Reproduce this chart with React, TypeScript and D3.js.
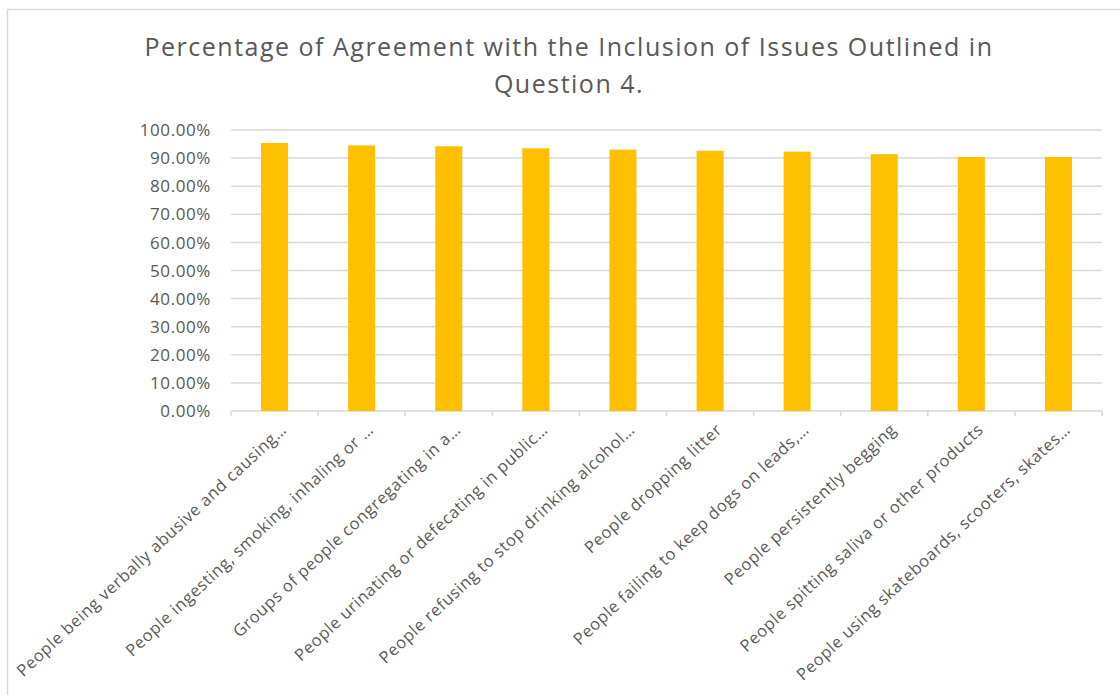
import React, { useEffect, useRef } from 'react'
import * as d3 from 'd3'

const titleLines = ['Percentage of Agreement with the Inclusion of Issues Outlined in', 'Question 4.']

const categories = [
  'People being verbally abusive and causing…',
  'People ingesting, smoking, inhaling or …',
  'Groups of people congregating in a…',
  'People urinating or defecating in public…',
  'People refusing to stop drinking alcohol…',
  'People dropping litter',
  'People failing to keep dogs on leads,…',
  'People persistently begging',
  'People spitting saliva or other products',
  'People using skateboards, scooters, skates…',
]

const agreement = [0.954, 0.945, 0.942, 0.935, 0.93, 0.926, 0.923, 0.914, 0.904, 0.904]

const yTicks = [0, 0.1, 0.2, 0.3, 0.4, 0.5, 0.6, 0.7, 0.8, 0.9, 1.0]

const FONT = '"Open Sans", "Noto Sans", sans-serif'

const App: React.FC = () => {
  const svgRef = useRef<SVGSVGElement>(null)

  useEffect(() => {
    if (!svgRef.current) return
    const width = 1120
    const height = 695
    const plot = { left: 231, right: 1102, top: 130, bottom: 411 }

    const svg = d3.select(svgRef.current)
    svg.selectAll('*').remove()
    svg.attr('width', width).attr('height', height)

    // chart frame (only top and left edges are in view)
    svg
      .append('rect')
      .attr('x', 7.5)
      .attr('y', 9.5)
      .attr('width', width + 20)
      .attr('height', height + 20)
      .attr('fill', '#fff')
      .attr('stroke', '#d9d9d9')
      .attr('stroke-width', 1.5)

    // title
    svg
      .append('g')
      .selectAll('text')
      .data(titleLines)
      .join('text')
      .attr('x', 569)
      .attr('y', (_, i) => 56 + i * 37)
      .attr('text-anchor', 'middle')
      .attr('font-family', FONT)
      .attr('font-size', 25)
      .attr('letter-spacing', 1.5)
      .attr('fill', '#595959')
      .text((d) => d)

    const x = d3.scaleBand<string>().domain(categories).range([plot.left, plot.right]).paddingInner(0.69).paddingOuter(0.345)
    const y = d3.scaleLinear().domain([0, 1]).range([plot.bottom, plot.top])

    // gridlines
    svg
      .append('g')
      .selectAll('line')
      .data(yTicks)
      .join('line')
      .attr('x1', plot.left)
      .attr('x2', plot.right)
      .attr('y1', (d) => y(d))
      .attr('y2', (d) => y(d))
      .attr('stroke', '#d9d9d9')
      .attr('stroke-width', 1.5)

    // y tick labels
    svg
      .append('g')
      .selectAll('text')
      .data(yTicks)
      .join('text')
      .attr('x', 211)
      .attr('y', (d) => y(d))
      .attr('dy', '0.36em')
      .attr('text-anchor', 'end')
      .attr('font-family', FONT)
      .attr('font-size', 17)
      .attr('letter-spacing', 0.6)
      .attr('fill', '#595959')
      .text((d) => d3.format('.2%')(d))

    // bars
    svg
      .append('g')
      .selectAll('rect')
      .data(agreement)
      .join('rect')
      .attr('x', (_, i) => x(categories[i]) ?? 0)
      .attr('y', (d) => y(d))
      .attr('width', x.bandwidth())
      .attr('height', (d) => y(0) - y(d))
      .attr('fill', '#ffc000')

    // category tick marks at slot boundaries
    const step = x.step()
    svg
      .append('g')
      .selectAll('line')
      .data(d3.range(categories.length + 1))
      .join('line')
      .attr('x1', (i) => plot.left + i * step)
      .attr('x2', (i) => plot.left + i * step)
      .attr('y1', plot.bottom)
      .attr('y2', plot.bottom + 5)
      .attr('stroke', '#d9d9d9')
      .attr('stroke-width', 1.5)

    // category labels
    svg
      .append('g')
      .selectAll('text')
      .data(categories)
      .join('text')
      .attr('transform', (d) => `translate(${(x(d) ?? 0) + x.bandwidth() / 2 + 13},${plot.bottom + 20}) rotate(-43)`)
      .attr('text-anchor', 'end')
      .attr('font-family', FONT)
      .attr('font-size', 16.5)
      .attr('letter-spacing', 0.6)
      .attr('fill', '#595959')
      .text((d) => d)
  }, [])

  return (
    <div style={{ position: 'absolute', left: 0, top: 0 }}>
      <svg ref={svgRef} style={{ display: 'block' }}></svg>
    </div>
  )
}

export default App
